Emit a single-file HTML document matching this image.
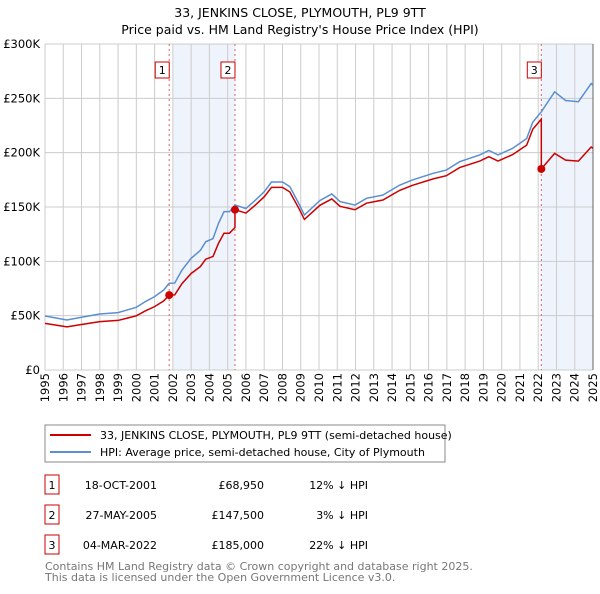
<!DOCTYPE html>
<html><head><meta charset="utf-8"><style>
body{margin:0;background:#fff;font-family:"DejaVu Sans","Liberation Sans",sans-serif;}
svg text{font-family:"DejaVu Sans","Liberation Sans",sans-serif;}
</style></head><body>
<svg id="chart" width="600" height="590" viewBox="0 0 600 590" xmlns="http://www.w3.org/2000/svg">
<text x="300" y="17" text-anchor="middle" font-size="12.5">33, JENKINS CLOSE, PLYMOUTH, PL9 9TT</text>
<text x="300" y="34" text-anchor="middle" font-size="12.5">Price paid vs. HM Land Registry's House Price Index (HPI)</text>
<g id="plot"></g>
<g>
<rect x="45" y="425" width="400" height="37" fill="#fff" stroke="#888"/>
<line x1="50" y1="435" x2="91" y2="435" stroke="#cc0000" stroke-width="2"/>
<text x="100" y="439" font-size="11">33, JENKINS CLOSE, PLYMOUTH, PL9 9TT (semi-detached house)</text>
<line x1="50" y1="452" x2="91" y2="452" stroke="#5b8fd1" stroke-width="2"/>
<text x="100" y="456" font-size="11">HPI: Average price, semi-detached house, City of Plymouth</text>
</g>
<g id="table" font-size="11"></g>
<text x="45" y="570" font-size="11" fill="#777">Contains HM Land Registry data © Crown copyright and database right 2025.</text>
<text x="45" y="581" font-size="11" fill="#777">This data is licensed under the Open Government Licence v3.0.</text>
</svg>
<script>
const hpiYears=[1995,1996.2,1997,1998,1999,2000,2000.5,2001,2001.5,2001.8,2002.1,2002.5,2003,2003.5,2003.8,2004.2,2004.5,2004.8,2005.1,2005.4,2006,2006.5,2007,2007.4,2008,2008.4,2008.9,2009.2,2010.05,2010.7,2011.15,2011.97,2012.6,2013.5,2014.4,2015.1,2016.25,2016.97,2017.7,2018.8,2019.3,2019.8,2020.6,2021.37,2021.7,2022.18,2022.9,2023.5,2024.2,2024.9,2025];
const hpiValues=[49.7,46,48.5,51.5,52.8,57.7,63,67.5,73.6,79.8,80,92,102.8,110,118,121,135,145.7,145.7,151.8,148.6,156,164,173,173,168.7,153,142.6,156,162,155,151.8,158,161,170,174.8,181,184,191.7,197.9,202,197.9,204,213,228,237.8,256,248,246.9,263.6,262];
const saleYears=[2001.8,2005.4,2022.17];
const salePrices=[68.95,147.5,185];
const saleDates=["18-OCT-2001","27-MAY-2005","04-MAR-2022"];
const saleLabels=["£68,950","£147,500","£185,000"];
const saleDiffs=["12% ↓ HPI","3% ↓ HPI","22% ↓ HPI"];
const yTicks=[0,50,100,150,200,250,300];
const yTickLabels=["£0","£50K","£100K","£150K","£200K","£250K","£300K"];
const xTicks=[];for(let y=1995;y<=2025;y++)xTicks.push(y);

const X0=45,X1=593,Y0=370,Y1=44;
const xs=y=>X0+(y-1995)/30*(X1-X0);
const ys=v=>Y0-v/300*(Y0-Y1);
const NS="http://www.w3.org/2000/svg";
const plot=document.getElementById('plot');
function mk(tag,attrs,parent){const e=document.createElementNS(NS,tag);for(const k in attrs)e.setAttribute(k,attrs[k]);(parent||plot).appendChild(e);return e;}
function hpiAt(t){for(let i=0;i<hpiYears.length-1;i++){if(t<=hpiYears[i+1]){const f=(t-hpiYears[i])/(hpiYears[i+1]-hpiYears[i]);return hpiValues[i]+f*(hpiValues[i+1]-hpiValues[i]);}}return hpiValues[hpiValues.length-1];}

// shaded regions
let s=mk('rect',{x:xs(2002),y:Y1,width:xs(saleYears[1])-xs(2002),height:Y0-Y1,fill:'#eef3fc'});

s=mk('rect',{x:xs(saleYears[2]),y:Y1,width:X1-xs(saleYears[2]),height:Y0-Y1,fill:'#eef3fc'});


xTicks.forEach(y=>{
 const l=mk('line',{x1:xs(y),x2:xs(y),y1:Y1,y2:Y0,stroke:'#cccccc','stroke-width':1});
 
 const t=mk('text',{x:0,y:0,transform:`translate(${xs(y)+4},373) rotate(-90)`,'text-anchor':'end','font-size':11.5});
 t.textContent=y;
 
});
yTicks.forEach((v,i)=>{
 const l=mk('line',{x1:X0,x2:X1,y1:ys(v),y2:ys(v),stroke:'#cccccc','stroke-width':1});
 
 const t=mk('text',{x:40,y:ys(v)+4,'text-anchor':'end','font-size':11.5});
 t.textContent=yTickLabels[i];
 
});
const ax=mk('line',{x1:X1,x2:X1,y1:Y1,y2:Y0,stroke:'#666','stroke-width':1});


// sale lines
saleYears.forEach((y,i)=>{
 const l=mk('line',{x1:xs(y),x2:xs(y),y1:Y1,y2:Y0,stroke:'#e06060','stroke-width':1,'stroke-dasharray':'2,3'});
 
 const r=mk('rect',{x:xs(y)-14,y:62,width:14,height:16,fill:'#fff',stroke:'#cc0000'});
 
 const t=mk('text',{x:xs(y)-7,y:74,'text-anchor':'middle','font-size':11});
 t.textContent=i+1;
 
});

// HPI line
const hp=mk('polyline',{points:hpiYears.map((y,i)=>xs(y)+','+ys(hpiValues[i])).join(' '),fill:'none',stroke:'#5b8fd1','stroke-width':1.5});


// property line: HPI scaled by last sale
const factors=saleYears.map((y,i)=>salePrices[i]/hpiAt(y));
const pts=[];
const times=hpiYears.concat(saleYears).sort((a,b)=>a-b);
times.forEach(t=>{
 let k=0;for(let i=0;i<saleYears.length;i++)if(t>=saleYears[i])k=i;
 if(saleYears.includes(t)&&t!==saleYears[0]){const idx=saleYears.indexOf(t);pts.push([t,hpiAt(t)*factors[idx-1]]);}
 pts.push([t,hpiAt(t)*factors[k]]);
});
const pl=mk('polyline',{points:pts.map(p=>xs(p[0])+','+ys(p[1])).join(' '),fill:'none',stroke:'#cc0000','stroke-width':1.5});

saleYears.forEach((y,i)=>{
 const c=mk('circle',{cx:xs(y),cy:ys(salePrices[i]),r:4,fill:'#cc0000'});
 
});

// table
const tb=document.getElementById('table');
saleYears.forEach((y,i)=>{
 const cy=483+i*30;
 const r=mk('rect',{x:45,y:cy-8,width:14,height:19,fill:'#fff',stroke:'#cc0000'},tb);
 
 const vals=[[52,'middle',String(i+1)],[157,'end',saleDates[i]],[264,'end',saleLabels[i]],[368,'end',saleDiffs[i]]];
 vals.forEach(v=>{const t=mk('text',{x:v[0],y:cy+6,'text-anchor':v[1]},tb);t.textContent=v[2];
  });
});
</script>
</body></html>
